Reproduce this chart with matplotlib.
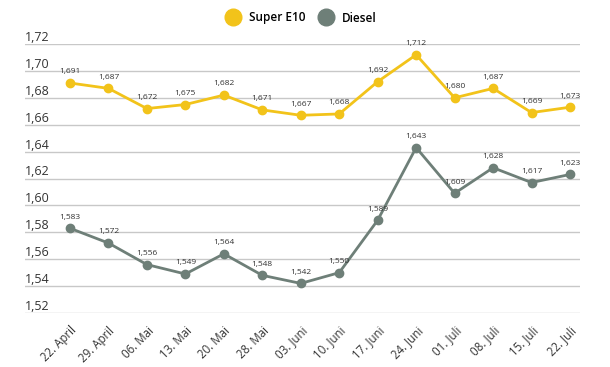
import matplotlib
matplotlib.use("Agg")
import matplotlib.pyplot as plt
from matplotlib.lines import Line2D
import matplotlib.transforms as mtransforms

dates = ["22. April", "29. April", "06. Mai", "13. Mai", "20. Mai", "28. Mai", "03. Juni",
         "10. Juni", "17. Juni", "24. Juni", "01. Juli", "08. Juli", "15. Juli", "22. Juli"]
super_e10 = [1.691, 1.687, 1.672, 1.675, 1.682, 1.671, 1.667, 1.668, 1.692, 1.712, 1.680, 1.687, 1.669, 1.673]
diesel = [1.583, 1.572, 1.556, 1.549, 1.564, 1.548, 1.542, 1.550, 1.589, 1.643, 1.609, 1.628, 1.617, 1.623]
yticks = [1.52, 1.54, 1.56, 1.58, 1.60, 1.62, 1.64, 1.66, 1.68, 1.70, 1.72]

YELLOW = "#F2C31A"
GRAY = "#6E7F78"
TEXT = "#333333"
GRID = "#C8C8C8"

plt.rcParams['font.family'] = ['Open Sans', 'DejaVu Sans']

fig = plt.figure(figsize=(6.1, 3.67), dpi=100)
ax = fig.add_axes([25/610, 1 - 313/367, (580-25)/610, (313-44)/367])

x = list(range(len(dates)))
ax.set_xlim(-1.17, 13.26)
ax.set_ylim(1.52, 1.72)

for t in yticks:
    ax.axhline(t, color=GRID, lw=1.0, zorder=0)

for vals, col in [(super_e10, YELLOW), (diesel, GRAY)]:
    ax.plot(x, vals, color=col, lw=2.0, marker="o", ms=6, zorder=3, clip_on=False)
    for xi, v in zip(x, vals):
        ax.annotate(f"{v:.3f}".replace(".", ","), (xi, v), xytext=(0, 5.5), textcoords="offset points",
                    ha="center", va="bottom", fontsize=6, color=TEXT, zorder=4)

ax.set_yticks([])
trans = mtransforms.blended_transform_factory(ax.transAxes, ax.transData)
for t in yticks:
    ax.text(0.0, t, f"{t:.2f}".replace(".", ","), transform=trans, ha="left", va="bottom",
            fontsize=9, color=TEXT)

ax.set_xticks(x)
ax.set_xticklabels(dates, rotation=45, ha="right", rotation_mode="anchor", fontsize=8.3, color=TEXT)
ax.tick_params(axis="x", length=0, pad=8)
for s in ax.spines.values():
    s.set_visible(False)

handles = [Line2D([], [], marker="o", ls="", color=YELLOW, ms=12),
           Line2D([], [], marker="o", ls="", color=GRAY, ms=12)]
fig.legend(handles, ["Super E10", "Diesel"], loc="center", bbox_to_anchor=(0.49, 1 - 18/367),
           ncol=2, frameon=False, handletextpad=0.3, columnspacing=0.8,
           prop={"weight": "semibold", "size": 8.5})

fig.savefig("out.png", dpi=100, facecolor="white")
